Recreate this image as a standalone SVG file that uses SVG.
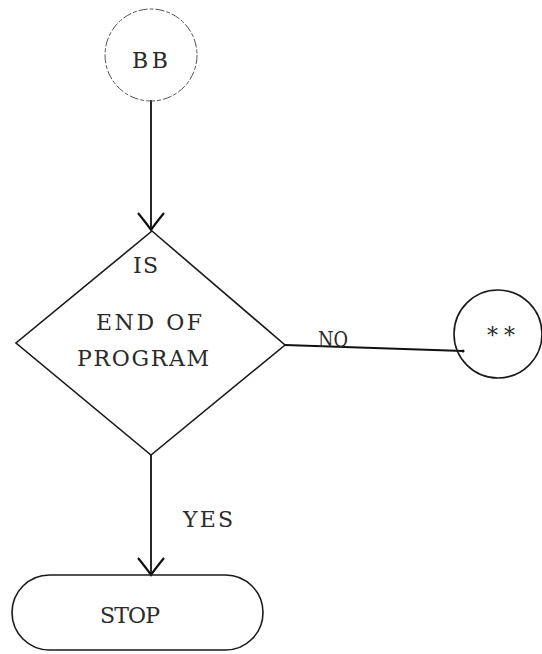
<svg xmlns="http://www.w3.org/2000/svg" width="542" height="654" viewBox="0 0 542 654">
  <defs>
    <style>
      .shape { fill: none; stroke: #1a1a1a; stroke-width: 1.6; }
      .faint { fill: none; stroke: #555; stroke-width: 1; stroke-dasharray: 9 2 4 2; }
      .flow { fill: none; stroke: #111; stroke-width: 1.8; }
      .label { font-family: "DejaVu Serif", "Liberation Serif", serif; font-size: 22px; fill: #2a2a2a; }
    </style>
    <!-- open V arrowhead with slightly curved arms -->
    <marker id="vhead" viewBox="-20 -16 22 32" markerWidth="22" markerHeight="32" refX="0" refY="0" orient="auto" markerUnits="userSpaceOnUse">
      <path d="M -17 -13 Q -6 -4 0 0 Q -6 4 -17 13" fill="none" stroke="#111" stroke-width="2.2"/>
    </marker>
  </defs>
  <rect width="542" height="654" fill="#fff"/>

  <g id="connectors">
    <line class="flow" x1="151" y1="100" x2="151" y2="230" marker-end="url(#vhead)"/>
    <line class="flow" x1="285" y1="345" x2="463" y2="351"/>
    <circle cx="463" cy="351" r="1.6" fill="#111"/>
    <line class="flow" x1="151" y1="455" x2="151" y2="575" marker-end="url(#vhead)"/>
    <text class="label" x="318" y="347" font-size="21" textLength="30" lengthAdjust="spacingAndGlyphs">NO</text>
    <text class="label" x="183" y="527" textLength="50">YES</text>
  </g>

  <g id="node-bb">
    <circle class="faint" cx="151" cy="55" r="46"/>
    <text class="label" x="132" y="68" font-size="24" textLength="36">BB</text>
  </g>

  <g id="node-decision">
    <polygon class="shape" points="152,231 285,345 151,455 16,343"/>
    <text class="label" x="133" y="273" textLength="25">IS</text>
    <text class="label" x="96" y="330" textLength="106">END OF</text>
    <text class="label" x="77" y="366" textLength="132">PROGRAM</text>
  </g>

  <g id="node-connector">
    <circle class="shape" cx="498" cy="334" r="44"/>
    <text class="label" x="487" y="343" font-size="28" textLength="28">**</text>
  </g>

  <g id="node-stop">
    <rect class="shape" x="12" y="575" width="251" height="75" rx="37.5" ry="37.5"/>
    <text class="label" x="100" y="623" font-size="21" textLength="60">STOP</text>
  </g>
</svg>
